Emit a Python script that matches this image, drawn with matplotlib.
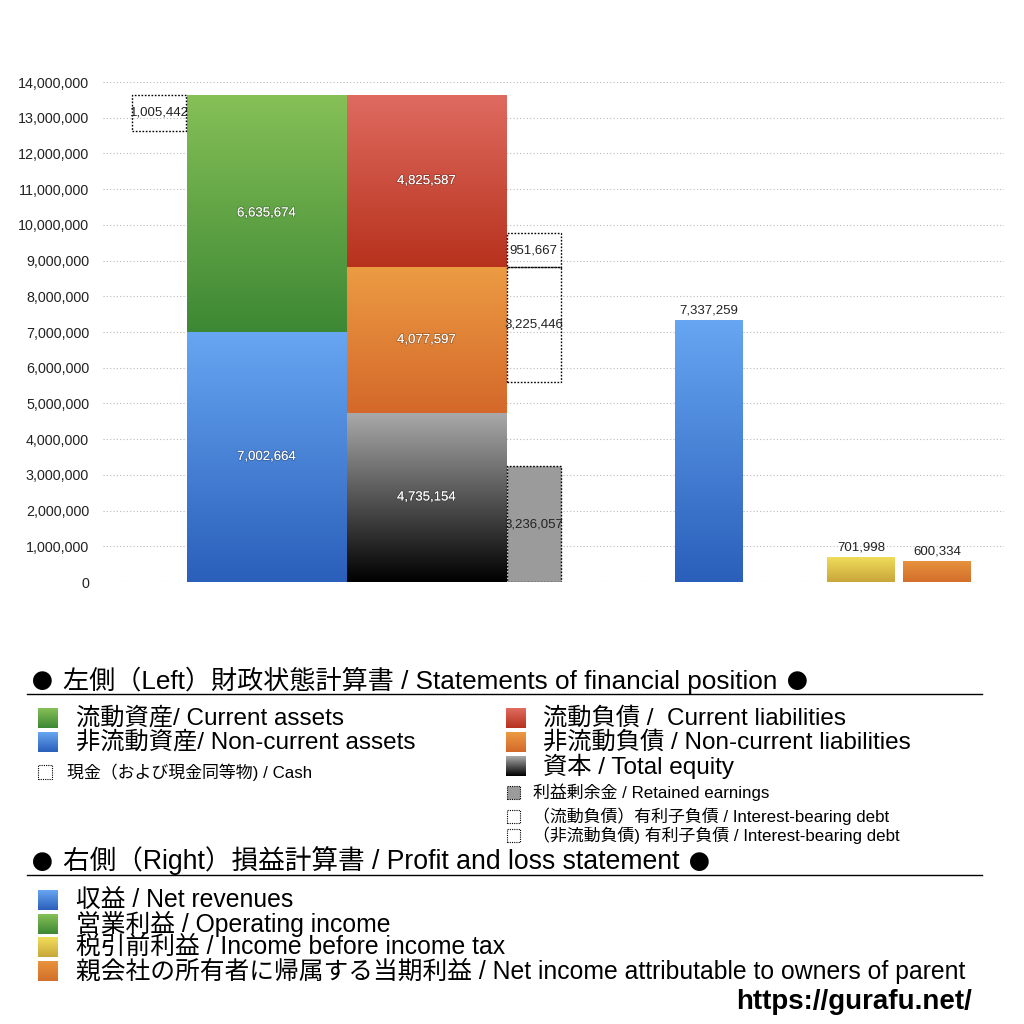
import numpy as np
import matplotlib
matplotlib.use("Agg")
import matplotlib.pyplot as plt
import matplotlib.patheffects as pe
from matplotlib.colors import LinearSegmentedColormap
from matplotlib.patches import Rectangle

plt.rcParams['font.family'] = ['Liberation Sans', 'Noto Sans CJK JP', 'DejaVu Sans']

# ---------------- data ----------------
cash = 1005442
current_assets = 6635674
noncurrent_assets = 7002664
current_liabilities = 4825587
noncurrent_liabilities = 4077597
total_equity = 4735154
retained_earnings = 3236057
ibd_current = 951667
ibd_noncurrent = 3225446

pl_names = ["収益 / Net revenues", "営業利益 / Operating income",
            "税引前利益 / Income before income tax",
            "親会社の所有者に帰属する当期利益 / Net income attributable to owners of parent"]
pl_values = [7337259, None, 701998, 600334]

yticks = list(range(0, 14000001, 1000000))

# ---------------- colours ----------------
C_GREEN = ("#86c057", "#3d8834")
C_BLUE = ("#67a6f2", "#2a5fba")
C_RED = ("#df6b60", "#b7321d")
C_ORANGE = ("#ec9b43", "#d4682a")
C_BLACK = ("#aaaaaa", "#000000")
C_YELLOW = ("#f1de5c", "#c9a63a")
C_ORANGE2 = ("#e8933d", "#d36f2c")
pl_colors = [C_BLUE, C_GREEN, C_YELLOW, C_ORANGE2]

fig = plt.figure(figsize=(10.24, 10.24), dpi=100)
ax = fig.add_axes([103/1024, 1 - 582/1024, (1004-103)/1024, 500/1024])
ax.set_xlim(103, 1004)
ax.set_ylim(0, 14000000)

fmt = lambda v: f"{v:,.0f}"


def grad_bar(x, bottom, height, width, colors):
    b = ax.bar(x, height, width, bottom=bottom, color='none', edgecolor='none', zorder=2)[0]
    cmap = LinearSegmentedColormap.from_list('g', [colors[1], colors[0]])
    grad = np.linspace(0, 1, 256).reshape(-1, 1)
    im = ax.imshow(grad, extent=(x - width/2, x + width/2, bottom, bottom + height),
                   origin='lower', aspect='auto', cmap=cmap, zorder=2, interpolation='bilinear')
    im.set_clip_path(b)
    return b


def dotted_box(x, bottom, height, width, face='none'):
    ax.bar(x, height, width, bottom=bottom, facecolor=face, edgecolor='black',
           linestyle=(0, (1.2, 1.2)), linewidth=1.0, zorder=3)


def inner_label(x, y, v, color='white'):
    t = ax.text(x, y, fmt(v), ha='center', va='center', fontsize=9.5, color=color, zorder=5)
    if color == 'white':
        t.set_path_effects([pe.withStroke(linewidth=1.2, foreground=(0, 0, 0, 0.25))])
    else:
        t.set_color('#222222')


total_assets = current_assets + noncurrent_assets

X_ASSET, X_LIAB, X_CASH, X_DEBT = 266.5, 426.5, 159, 533.5
W_MAIN, W_SIDE = 160, 54
grad_bar(X_ASSET, 0, noncurrent_assets, W_MAIN, C_BLUE)
grad_bar(X_ASSET, noncurrent_assets, current_assets, W_MAIN, C_GREEN)
inner_label(X_ASSET, noncurrent_assets/2, noncurrent_assets)
inner_label(X_ASSET, noncurrent_assets + current_assets/2, current_assets)

dotted_box(X_CASH, total_assets - cash, cash, W_SIDE)
inner_label(X_CASH, total_assets - cash/2, cash, 'black')

grad_bar(X_LIAB, 0, total_equity, W_MAIN, C_BLACK)
grad_bar(X_LIAB, total_equity, noncurrent_liabilities, W_MAIN, C_ORANGE)
grad_bar(X_LIAB, total_equity + noncurrent_liabilities, current_liabilities, W_MAIN, C_RED)
inner_label(X_LIAB, total_equity/2, total_equity)
inner_label(X_LIAB, total_equity + noncurrent_liabilities/2, noncurrent_liabilities)
inner_label(X_LIAB, total_equity + noncurrent_liabilities + current_liabilities/2, current_liabilities)

dotted_box(X_DEBT, 0, retained_earnings, W_SIDE, face='#9b9b9b')
inner_label(X_DEBT, retained_earnings/2, retained_earnings, 'black')
ncl_top = total_equity + noncurrent_liabilities
dotted_box(X_DEBT, ncl_top - ibd_noncurrent, ibd_noncurrent, W_SIDE)
inner_label(X_DEBT, ncl_top - ibd_noncurrent/2, ibd_noncurrent, 'black')
dotted_box(X_DEBT, ncl_top, ibd_current, W_SIDE)
inner_label(X_DEBT, ncl_top + ibd_current/2, ibd_current, 'black')

pl_x = [709, 785, 861, 937]
for xx, v, c in zip(pl_x, pl_values, pl_colors):
    if v is None:
        continue
    grad_bar(xx, 0, v, 68, c)
    ax.annotate(fmt(v), (xx, v), xytext=(0, 2.5), textcoords='offset points',
                ha='center', va='bottom', fontsize=9.5, color='#222222', zorder=5)

ax.set_yticks(yticks)
ax.set_yticklabels([fmt(v) for v in yticks], fontsize=10.3, color='#222222')
ax.set_xticks([])
for s in ax.spines.values():
    s.set_visible(False)
ax.tick_params(axis='y', length=0, pad=10)
ax.grid(axis='y', color='#bbbbbb', linestyle=(0, (1, 2)), linewidth=0.8, zorder=0)
ax.set_axisbelow(True)

# ---------------- legend area ----------------
def fy(py):
    return 1 - py/1024

def fx(px):
    return px/1024


def sq_grad(px, py, size, colors):
    axs = fig.add_axes([fx(px), fy(py + size/2), size/1024, size/1024])
    cmap = LinearSegmentedColormap.from_list('g', [colors[1], colors[0]])
    axs.imshow(np.linspace(0, 1, 64).reshape(-1, 1), origin='lower', aspect='auto', cmap=cmap)
    axs.axis('off')


def sq_dotted(px, py, size, face='none'):
    fig.patches.append(Rectangle((fx(px), fy(py + size/2)), size/1024, size/1024,
                                 transform=fig.transFigure, facecolor=face, edgecolor='black',
                                 linestyle=(0, (1, 1)), linewidth=0.8))


renderer = fig.canvas.get_renderer()


def header(py, txt, size):
    fig.text(fx(32), fy(py + 3), "●", fontsize=15, va='center', ha='left',
             family=['Noto Sans CJK JP'])
    t = fig.text(fx(63), fy(py), txt, fontsize=size, va='center', ha='left')
    bb = t.get_window_extent(renderer)
    fig.text(bb.x1 / 1024 + 10/1024, fy(py + 3), "●", fontsize=15, va='center', ha='left',
             family=['Noto Sans CJK JP'])


head = 18.8
big = 17.5
small = 12.2

header(680, "左側（Left）財政状態計算書 / Statements of financial position", head)
fig.add_artist(plt.Line2D([fx(27), fx(982)], [fy(694), fy(694)], color='black', lw=1,
                          transform=fig.transFigure))

left_big = [("流動資産/ Current assets", C_GREEN, 718),
            ("非流動資産/ Non-current assets", C_BLUE, 742)]
for txt, c, py in left_big:
    sq_grad(38, py, 20, c)
    fig.text(fx(76), fy(py), txt, fontsize=big, va='center')
sq_dotted(38, 772, 14)
fig.text(fx(67), fy(772), "現金（および現金同等物) / Cash", fontsize=small, va='center')

right_big = [("流動負債 /  Current liabilities", C_RED, 718),
             ("非流動負債 / Non-current liabilities", C_ORANGE, 742),
             ("資本 / Total equity", C_BLACK, 766)]
for txt, c, py in right_big:
    sq_grad(506, py, 20, c)
    fig.text(fx(543), fy(py), txt, fontsize=big, va='center')
sq_dotted(507, 792, 13, face='#9b9b9b')
fig.text(fx(533), fy(792), "利益剰余金 / Retained earnings", fontsize=small, va='center')
sq_dotted(507, 816, 13)
fig.text(fx(533), fy(816), "（流動負債）有利子負債 / Interest-bearing debt", fontsize=small, va='center')
sq_dotted(507, 835, 13)
fig.text(fx(533), fy(835), "（非流動負債) 有利子負債 / Interest-bearing debt", fontsize=small, va='center')

header(861, "右側（Right）損益計算書 / Profit and loss statement", 19.2)
fig.add_artist(plt.Line2D([fx(27), fx(982)], [fy(875), fy(875)], color='black', lw=1,
                          transform=fig.transFigure))

for i, (txt, c) in enumerate(zip(pl_names, pl_colors)):
    py = 900 + i * 23.7
    sq_grad(38, py, 20, c)
    fig.text(fx(76), fy(py), txt, fontsize=17.8, va='center')

fig.text(fx(972), fy(1002), "https://gurafu.net/", fontsize=20, fontweight='bold',
         ha='right', va='center')

fig.savefig("out.png", dpi=100)
